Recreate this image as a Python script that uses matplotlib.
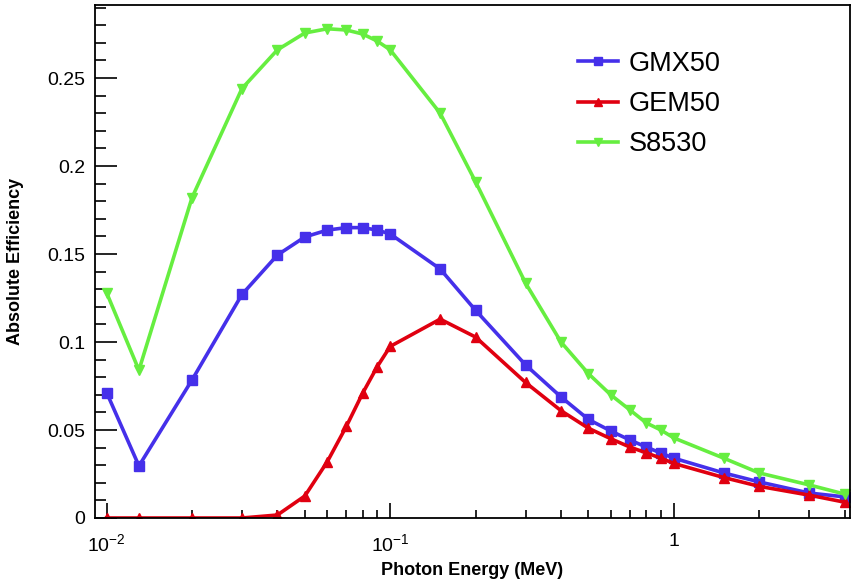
import matplotlib
matplotlib.use("Agg")
import matplotlib.pyplot as plt
from matplotlib.ticker import FixedLocator, MultipleLocator, NullFormatter

plt.rcParams['font.family'] = ['Liberation Sans', 'DejaVu Sans']
plt.rcParams['mathtext.fontset'] = 'custom'
plt.rcParams['mathtext.rm'] = 'Liberation Sans'
plt.rcParams['mathtext.it'] = 'Liberation Sans'

# photon energies (MeV)
energy = [0.01, 0.013, 0.02, 0.03, 0.04, 0.05, 0.06, 0.07, 0.08, 0.09, 0.1,
          0.15, 0.2, 0.3, 0.4, 0.5, 0.6, 0.7, 0.8, 0.9, 1.0, 1.5, 2.0, 3.0, 4.0]

gmx50 = [0.0713, 0.0296, 0.0784, 0.127, 0.1494, 0.1597, 0.1636, 0.165, 0.165,
         0.1636, 0.1614, 0.1415, 0.118, 0.087, 0.0688, 0.056, 0.0494, 0.0443,
         0.0403, 0.0369, 0.034, 0.0256, 0.0205, 0.0142, 0.012]

gem50 = [0.0, 0.0, 0.0, 0.0, 0.0017, 0.0125, 0.032, 0.052, 0.071, 0.086,
         0.0975, 0.113, 0.1028, 0.077, 0.061, 0.051, 0.045, 0.0403, 0.037,
         0.034, 0.031, 0.023, 0.018, 0.013, 0.009]

s8530 = [0.128, 0.084, 0.182, 0.244, 0.266, 0.2756, 0.278, 0.2773, 0.275,
         0.271, 0.266, 0.230, 0.191, 0.1335, 0.100, 0.082, 0.0699, 0.0614,
         0.054, 0.050, 0.0455, 0.034, 0.0256, 0.0188, 0.0136]

x_ticks = [0.01, 0.1, 1]
x_tick_labels = ['$10^{-2}$', '$10^{-1}$', '1']

fig = plt.figure(figsize=(8.58, 5.82), dpi=100)
ax = fig.add_axes([95 / 858, 1 - 518 / 582, 755 / 858, 513 / 582])

ax.plot(energy, gmx50, color='#4530ea', lw=2.6, marker='s', ms=7,
        label='GMX50')
ax.plot(energy, gem50, color='#e00010', lw=2.6, marker='^', ms=7,
        label='GEM50')
ax.plot(energy, s8530, color='#66ee40', lw=2.6, marker='v', ms=7,
        label='S8530')

ax.set_xscale('log')
ax.set_xlim(0.0091, 4.18)
ax.set_ylim(0, 0.2915)

ax.xaxis.set_major_locator(FixedLocator(x_ticks))
ax.set_xticklabels(x_tick_labels)
ax.xaxis.set_minor_locator(FixedLocator(
    [m * d for d in (0.01, 0.1, 1) for m in range(2, 10) if m * d <= 4.2]))
ax.xaxis.set_minor_formatter(NullFormatter())

ax.yaxis.set_major_locator(MultipleLocator(0.05))
ax.yaxis.set_minor_locator(MultipleLocator(0.01))
ax.set_yticks([0, 0.05, 0.1, 0.15, 0.2, 0.25])
ax.set_yticklabels(['0', '0.05', '0.1', '0.15', '0.2', '0.25'])

ax.tick_params(which='both', direction='in', top=False, right=False,
               labelsize=14, width=1.2)
ax.tick_params(axis='y', which='major', length=16, pad=7)
ax.tick_params(axis='y', which='minor', length=8)
ax.tick_params(axis='x', which='major', length=11, pad=11)
ax.tick_params(axis='x', which='minor', length=6)

for sp in ax.spines.values():
    sp.set_linewidth(1.3)

ax.set_xlabel('Photon Energy (MeV)', fontsize=13, fontweight='bold',
              labelpad=5)
ax.set_ylabel('Absolute Efficiency', fontsize=13, fontweight='bold',
              labelpad=17)

leg = ax.legend(loc='upper left', bbox_to_anchor=(0.607, 0.958),
                frameon=False, fontsize=19.5, handlelength=1.5,
                handletextpad=0.4, labelspacing=0.52, markerscale=0.75)

fig.savefig('out.png', dpi=100)
